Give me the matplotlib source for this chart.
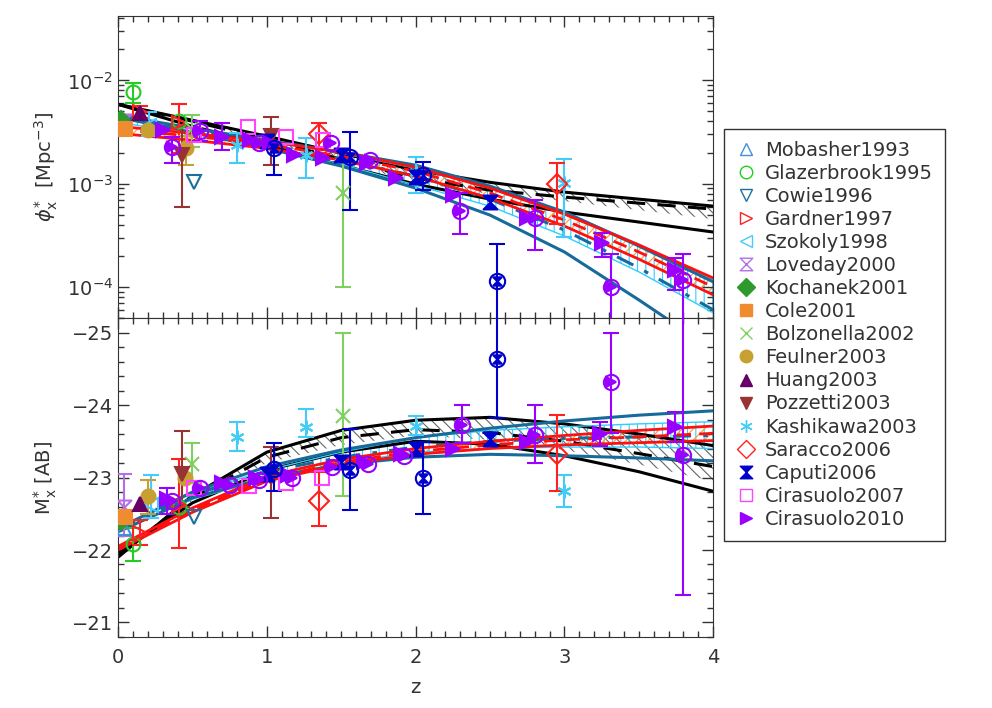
import numpy as np
import matplotlib
matplotlib.use('Agg')
import matplotlib.pyplot as plt
from matplotlib.path import Path
from matplotlib.lines import Line2D
from matplotlib.ticker import MultipleLocator, LogLocator, NullFormatter

nan = np.nan

# ================================
# model curves, read off at z = 0, 0.5, ..., 4

z_grid = [0, 0.5, 1, 1.5, 2, 2.5, 3, 3.5, 4]

# phi* (Mpc^-3)
blk_up_phi = [5.86e-3, 4.11e-3, 2.88e-3, 1.97e-3, 1.35e-3, 1.03e-3, 8.28e-4, 7.08e-4, 6.06e-4]
blk_lo_phi = [5.86e-3, 3.59e-3, 2.36e-3, 1.51e-3, 9.88e-4, 7.08e-4, 5.31e-4, 4.25e-4, 3.40e-4]
blk_mid_phi = [5.86e-3, 4.02e-3, 2.69e-3, 1.72e-3, 1.13e-3, 8.65e-4, 7.41e-4, 6.48e-4, 5.67e-4]
blk_hatch_phi = [5.73e-3, 3.93e-3, 2.57e-3, 1.61e-3, 1.03e-3, 7.92e-4, 6.78e-4, 5.55e-4, 4.54e-4]
teal_up_phi = [4.59e-3, 3.44e-3, 2.63e-3, 2.02e-3, 1.51e-3, 9.46e-4, 5.31e-4, 2.49e-4, 1.12e-4]
teal_lo_phi = [4.39e-3, 3.14e-3, 2.20e-3, 1.48e-3, 9.05e-4, 4.96e-4, 2.18e-4, 7.49e-5, 2.46e-5]
teal_mid_phi = [4.49e-3, 3.29e-3, 2.41e-3, 1.72e-3, 1.18e-3, 7.08e-4, 3.55e-4, 1.53e-4, 6.0e-5]
cyan_up_phi = [4.49e-3, 3.44e-3, 2.63e-3, 1.97e-3, 1.41e-3, 9.05e-4, 5.31e-4, 2.60e-4, 1.17e-4]
cyan_lo_phi = [3.93e-3, 3.01e-3, 2.25e-3, 1.54e-3, 9.67e-4, 6.06e-4, 3.11e-4, 1.40e-4, 5.61e-5]
red_up_phi = [3.59e-3, 3.07e-3, 2.57e-3, 2.02e-3, 1.44e-3, 9.05e-4, 5.07e-4, 2.55e-4, 1.22e-4]
red_lo_phi = [3.07e-3, 2.63e-3, 2.20e-3, 1.69e-3, 1.18e-3, 7.24e-4, 3.88e-4, 1.86e-4, 8.37e-5]
red_mid_phi = [3.36e-3, 2.88e-3, 2.41e-3, 1.84e-3, 1.32e-3, 8.10e-4, 4.44e-4, 2.18e-4, 1.00e-4]

# M* (AB)
blk_up_m = [-21.90, -22.75, -23.35, -23.65, -23.79, -23.83, -23.74, -23.60, -23.44]
blk_lo_m = [-21.95, -22.65, -23.10, -23.35, -23.50, -23.46, -23.30, -23.08, -22.81]
blk_mid_m = [-21.93, -22.72, -23.28, -23.55, -23.66, -23.62, -23.50, -23.33, -23.15]
blk_hatch_m = [-21.93, -22.68, -23.20, -23.45, -23.58, -23.52, -23.38, -23.18, -22.95]
teal_up_m = [-22.30, -22.80, -23.15, -23.38, -23.55, -23.68, -23.78, -23.86, -23.92]
teal_lo_m = [-22.25, -22.72, -23.00, -23.18, -23.28, -23.32, -23.30, -23.27, -23.23]
teal_mid_m = [-22.28, -22.76, -23.08, -23.28, -23.42, -23.50, -23.54, -23.56, -23.58]
cyan_up_m = [-22.30, -22.78, -23.10, -23.35, -23.55, -23.65, -23.70, -23.74, -23.77]
cyan_lo_m = [-22.25, -22.70, -22.98, -23.20, -23.35, -23.40, -23.42, -23.42, -23.40]
red_up_m = [-22.05, -22.58, -23.02, -23.25, -23.40, -23.50, -23.58, -23.65, -23.71]
red_lo_m = [-22.00, -22.52, -22.95, -23.18, -23.32, -23.40, -23.45, -23.48, -23.51]
red_mid_m = [-22.02, -22.55, -22.98, -23.21, -23.36, -23.45, -23.52, -23.56, -23.61]

# ================================
# measurements: (z, value, err_low_bound, err_high_bound)

mobasher_phi = [(0.04, 3.5e-3, nan, nan)]
mobasher_m = [(0.04, -22.30, nan, nan)]
glazebrook_phi = [(0.10, 7.8e-3, 6.1e-3, 9.5e-3), (0.41, 4.0e-3, nan, nan)]
glazebrook_m = [(0.10, -22.08, -22.30, -21.85), (0.41, -22.60, nan, nan)]
cowie_phi = [(0.51, 1.03e-3, nan, nan)]
cowie_m = [(0.51, -22.45, nan, nan)]
gardner_phi = [(0.15, 4.9e-3, 4.3e-3, 5.6e-3), (0.41, 3.9e-3, 2.0e-3, 5.85e-3)]
gardner_m = [(0.15, -22.23, -22.41, -22.07), (0.41, -22.62, -23.26, -22.03)]
szokoly_phi = [(0.21, 3.6e-3, 2.9e-3, 4.9e-3)]
szokoly_m = [(0.22, -22.62, -23.03, -22.44)]
loveday_phi = [(0.04, 4.0e-3, 3.5e-3, 4.6e-3)]
loveday_m = [(0.04, -22.60, -23.05, -22.20)]
kochanek_phi = [(0.02, 4.2e-3, nan, nan)]
kochanek_m = [(0.02, -22.38, nan, nan)]
cole_phi = [(0.05, 3.4e-3, nan, nan)]
cole_m = [(0.05, -22.45, nan, nan)]
bolzonella_phi = [(0.50, 3.4e-3, 2.25e-3, 4.6e-3), (1.51, 8.1e-4, 1.0e-4, 1.7e-3)]
bolzonella_m = [(0.50, -23.19, -23.47, -22.92), (1.51, -23.85, -25.0, -22.74)]
feulner_phi = [(0.20, 3.3e-3, nan, nan), (0.46, 2.2e-3, 1.5e-3, 2.9e-3)]
feulner_m = [(0.20, -22.74, -22.96, -22.50), (0.45, -23.00, nan, nan)]
huang_phi = [(0.15, 4.8e-3, nan, nan)]
huang_m = [(0.15, -22.64, nan, nan)]
pozzetti_phi = [(0.43, 1.9e-3, 5.9e-4, 3.5e-3), (1.03, 2.9e-3, 1.5e-3, 4.4e-3)]
pozzetti_m = [(0.43, -23.05, -23.64, -22.60), (1.03, -23.01, -23.42, -22.44)]
kashikawa_phi = [(0.80, 2.35e-3, 1.6e-3, 3.1e-3), (1.26, 1.9e-3, 1.13e-3, 2.75e-3),
                 (2.00, 1.29e-3, 8.1e-4, 1.8e-3), (3.00, 1.01e-3, 3.05e-4, 1.73e-3)]
kashikawa_m = [(0.80, -23.56, -23.77, -23.37), (1.26, -23.70, -23.95, -23.56),
               (2.00, -23.71, -23.85, -23.58), (3.00, -22.81, -23.04, -22.59)]
saracco_phi = [(1.35, 3.0e-3, 2.0e-3, 3.9e-3), (2.95, 1.0e-3, 4.1e-4, 1.6e-3)]
saracco_m = [(1.35, -22.68, -23.08, -22.33), (2.95, -23.33, -23.86, -22.81)]
caputi_phi = [(1.00, 2.6e-3, nan, nan), (1.50, 1.9e-3, nan, nan),
              (2.00, 1.15e-3, nan, nan), (2.50, 6.6e-4, nan, nan)]
caputi_m = [(1.00, -23.05, nan, nan), (1.50, -23.22, nan, nan),
            (2.00, -23.40, nan, nan), (2.50, -23.53, nan, nan)]
caputi_c_phi = [(1.05, 2.2e-3, 1.2e-3, 3.3e-3), (1.56, 1.8e-3, 5.5e-4, 3.15e-3),
                (2.05, 1.2e-3, 8.65e-4, 1.61e-3), (2.55, 1.14e-4, 4e-5, 2.6e-4)]
caputi_c_m = [(1.05, -23.12, -23.47, -22.81), (1.56, -23.11, -23.67, -22.55),
              (2.05, -23.00, -23.49, -22.49), (2.55, -24.63, -25.3, -23.82)]
cira07_phi = [(0.51, 2.94e-3, nan, nan), (0.87, 3.5e-3, nan, nan),
              (1.13, 2.8e-3, nan, nan), (1.38, 2.63e-3, nan, nan)]
cira07_m = [(0.51, -22.85, nan, nan), (0.88, -22.88, nan, nan),
            (1.13, -22.92, nan, nan), (1.37, -23.00, nan, nan)]
cira10_phi = [(0.30, 3.3e-3, nan, nan), (0.70, 2.8e-3, 2.1e-3, 3.84e-3), (0.89, 2.63e-3, nan, nan),
              (1.02, 2.46e-3, nan, nan), (1.18, 1.88e-3, nan, nan), (1.38, 1.76e-3, nan, nan),
              (1.67, 1.58e-3, nan, nan), (1.87, 1.13e-3, nan, nan), (2.25, 7.7e-4, nan, nan),
              (2.75, 4.7e-4, nan, nan), (3.25, 2.66e-4, 1.95e-4, 3.3e-4), (3.74, 1.46e-4, 9.35e-5, 1.9e-4)]
cira10_m = [(0.33, -22.71, -22.85, -22.50), (0.70, -22.92, nan, nan), (0.93, -22.99, nan, nan),
            (1.14, -23.03, nan, nan), (1.65, -23.22, nan, nan), (1.90, -23.33, nan, nan),
            (2.25, -23.40, nan, nan), (2.75, -23.49, nan, nan), (3.24, -23.60, -23.77, -23.44),
            (3.74, -23.70, -23.90, -23.49)]
cira10_c_phi = [(0.36, 2.25e-3, 1.6e-3, 2.8e-3), (0.55, 3.2e-3, 2.6e-3, 4.0e-3), (0.95, 2.5e-3, nan, nan),
                (1.43, 2.5e-3, nan, nan), (1.69, 1.7e-3, nan, nan), (2.30, 5.4e-4, 3.25e-4, 8.1e-4),
                (2.80, 4.7e-4, 2.3e-4, 6.9e-4), (3.31, 1.0e-4, 4e-5, 2.1e-4), (3.80, 1.17e-4, 4e-5, 2.1e-4)]
cira10_c_m = [(0.36, -22.68, nan, nan), (0.55, -22.85, nan, nan), (0.75, -22.89, nan, nan),
              (0.95, -22.96, nan, nan), (1.17, -22.99, nan, nan), (1.44, -23.15, nan, nan),
              (1.68, -23.19, nan, nan), (1.92, -23.30, nan, nan), (2.31, -23.73, -24.00, -23.48),
              (2.80, -23.58, -24.00, -23.20), (3.31, -24.32, -24.99, -23.62), (3.80, -23.31, -25.3, -21.38)]

hourglass = Path([(-1, 1), (1, 1), (-1, -1), (1, -1), (-1, 1)],
                 [Path.MOVETO, Path.LINETO, Path.LINETO, Path.LINETO, Path.CLOSEPOLY])
asterisk = (6, 2, 0)

# name, phi data, M data, marker, colour, filled
surveys = [
    ('Mobasher1993', mobasher_phi, mobasher_m, '^', '#3d8fe0', False),
    ('Glazerbrook1995', glazebrook_phi, glazebrook_m, 'o', '#22cc22', False),
    ('Cowie1996', cowie_phi, cowie_m, 'v', '#1e6fa0', False),
    ('Gardner1997', gardner_phi, gardner_m, '>', '#ff2020', False),
    ('Szokoly1998', szokoly_phi, szokoly_m, '<', '#44ccff', False),
    ('Loveday2000', loveday_phi, loveday_m, hourglass, '#b46ee6', False),
    ('Kochanek2001', kochanek_phi, kochanek_m, 'D', '#2e9a2e', True),
    ('Cole2001', cole_phi, cole_m, 's', '#f08c30', True),
    ('Bolzonella2002', bolzonella_phi, bolzonella_m, 'x', '#80d060', False),
    ('Feulner2003', feulner_phi, feulner_m, 'o', '#c8a032', True),
    ('Huang2003', huang_phi, huang_m, '^', '#660066', True),
    ('Pozzetti2003', pozzetti_phi, pozzetti_m, 'v', '#993333', True),
    ('Kashikawa2003', kashikawa_phi, kashikawa_m, asterisk, '#44ccf8', False),
    ('Saracco2006', saracco_phi, saracco_m, 'D', '#ff2020', False),
    ('Caputi2006', caputi_phi, caputi_m, hourglass, '#0000cc', True),
    ('Cirasuolo2007', cira07_phi, cira07_m, 's', '#ff44ff', False),
    ('Cirasuolo2010', cira10_phi, cira10_m, '>', '#9900ff', True),
]

plt.rcParams['font.family'] = 'DejaVu Sans'
plt.rcParams['hatch.linewidth'] = 0.8

fig = plt.figure(figsize=(9.92, 7.08), dpi=100)
ax1 = fig.add_axes([0.119, 0.5508, 0.6, 0.4266])
ax2 = fig.add_axes([0.119, 0.1003, 0.6, 0.4505])


def draw_models(ax, b_up, b_lo, b_mid, b_hatch, t_up, t_lo, t_mid, c_up, c_lo, r_up, r_lo, r_mid):
    ax.fill_between(z_grid, b_up, b_hatch, facecolor='none', edgecolor='#666666', hatch='\\\\\\', lw=0)
    ax.fill_between(z_grid, c_up, c_lo, facecolor='none', edgecolor='#33ccff', hatch='||', lw=0)
    ax.fill_between(z_grid, r_up, r_lo, facecolor='none', edgecolor='#ff9933', hatch='///', lw=0)
    ax.plot(z_grid, b_up, color='black', lw=2.2)
    ax.plot(z_grid, b_lo, color='black', lw=2.2)
    ax.plot(z_grid, b_mid, color='black', lw=2.2, dashes=(6, 4))
    ax.plot(z_grid, c_up, color='#33ccff', lw=1)
    ax.plot(z_grid, c_lo, color='#33ccff', lw=1)
    ax.plot(z_grid, t_up, color='#176b9b', lw=2.2)
    ax.plot(z_grid, t_lo, color='#176b9b', lw=2.2)
    ax.plot(z_grid, t_mid, color='#176b9b', lw=2.2, dashes=(6, 4, 1.5, 4))
    ax.plot(z_grid, r_up, color='#ff1010', lw=2)
    ax.plot(z_grid, r_lo, color='#ff1010', lw=2)
    ax.plot(z_grid, r_mid, color='#ff1010', lw=2, dashes=(5, 3))


def draw_points(ax, pts, marker, color, filled, ms=10):
    for z, v, lo, hi in pts:
        if not np.isnan(lo):
            ax.errorbar([z], [v], yerr=[[abs(v - lo)], [abs(hi - v)]], fmt='none',
                        ecolor=color, elinewidth=1.5, capsize=6, capthick=1.5, zorder=5)
    zs = [p[0] for p in pts]
    vs = [p[1] for p in pts]
    ax.plot(zs, vs, ls='none', marker=marker, ms=ms, color=color,
            mfc=color if filled else 'none', mec=color, mew=1.5, zorder=6)


draw_models(ax1, blk_up_phi, blk_lo_phi, blk_mid_phi, blk_hatch_phi, teal_up_phi, teal_lo_phi,
            teal_mid_phi, cyan_up_phi, cyan_lo_phi, red_up_phi, red_lo_phi, red_mid_phi)
draw_models(ax2, blk_up_m, blk_lo_m, blk_mid_m, blk_hatch_m, teal_up_m, teal_lo_m,
            teal_mid_m, cyan_up_m, cyan_lo_m, red_up_m, red_lo_m, red_mid_m)

for name, pphi, pm, marker, color, filled in surveys:
    ms = 8 if marker == 'D' and filled else 10
    draw_points(ax1, pphi, marker, color, filled, ms)
    draw_points(ax2, pm, marker, color, filled, ms)

# circle-marked points of Caputi2006 and Cirasuolo2010
for ax, pts in [(ax1, caputi_c_phi), (ax2, caputi_c_m)]:
    draw_points(ax, pts, 'o', '#0000cc', False, 11)
    draw_points(ax, [(p[0], p[1], nan, nan) for p in pts], hourglass, '#0000cc', True, 6)
for ax, pts in [(ax1, cira10_c_phi), (ax2, cira10_c_m)]:
    draw_points(ax, pts, 'o', '#9900ff', False, 11)
    draw_points(ax, [(p[0], p[1], nan, nan) for p in pts], '>', '#9900ff', True, 7)

# axes
ax1.set_yscale('log')
ax1.set_ylim(5e-5, 4.2e-2)
ax2.set_ylim(-20.8, -25.2)
for ax in (ax1, ax2):
    ax.set_xlim(0, 4)
    ax.xaxis.set_major_locator(MultipleLocator(1))
    ax.xaxis.set_minor_locator(MultipleLocator(0.1))
    ax.tick_params(which='both', direction='in', top=True, right=True, labelsize=14,
                   color='#333333', width=1, labelcolor='#333333')
    ax.tick_params(which='major', length=8)
    ax.tick_params(which='minor', length=4)
    for s in ax.spines.values():
        s.set_color('#333333')
ax1.yaxis.set_major_locator(LogLocator(base=10, numticks=10))
ax1.yaxis.set_minor_locator(LogLocator(base=10, subs=np.arange(2, 10), numticks=10))
ax1.yaxis.set_minor_formatter(NullFormatter())
ax1.tick_params(labelbottom=False)
ax2.yaxis.set_major_locator(MultipleLocator(1))
ax2.yaxis.set_minor_locator(MultipleLocator(0.2))
ax2.tick_params(axis='x', pad=8)

ax1.set_ylabel(r'$\phi^{*}_{\rm x}$  [Mpc$^{-3}$]', fontsize=14, labelpad=5, color='#333333')
ax2.set_ylabel(r'M$^{*}_{\rm x}$ [AB]', fontsize=14, labelpad=9, color='#333333')
ax2.set_xlabel('z', fontsize=14, labelpad=8, color='#333333')

handles = []
for name, pphi, pm, marker, color, filled in surveys:
    handles.append(Line2D([], [], ls='none', marker=marker, ms=9, color=color,
                          mfc=color if filled else 'none', mec=color, mew=1, label=name))
leg = fig.legend(handles=handles, loc='upper left', bbox_to_anchor=(0.730, 0.818),
                 bbox_transform=fig.transFigure, fontsize=14, frameon=True, fancybox=False,
                 edgecolor='#333333', framealpha=1, handlelength=1.0, handletextpad=0.5,
                 labelspacing=0.21, borderpad=0.6, borderaxespad=0)
leg.get_frame().set_linewidth(1)
for t in leg.get_texts():
    t.set_color('#333333')

fig.savefig('out.png', dpi=100)
